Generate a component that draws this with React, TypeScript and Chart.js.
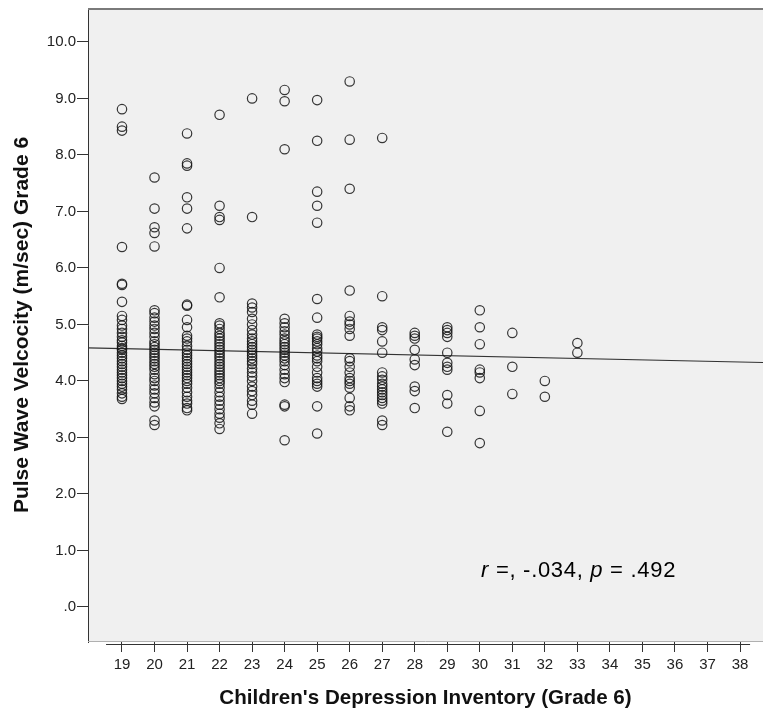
import React, { useEffect, useRef } from "react";
import { Chart, registerables } from "chart.js";

Chart.register(...registerables);

// CDI score categories (x) and Pulse Wave Velocity values (y) per category
const cdiScores = [19, 20, 21, 22, 23, 24, 25, 26, 27, 28, 29, 30, 31, 32, 33];

const pwv19 = [8.81, 8.5, 8.43, 6.37, 5.72, 5.7, 5.4, 5.15, 5.08, 4.98, 4.92, 4.85, 4.78, 4.72, 4.68, 4.62, 4.58, 4.55, 4.5, 4.45, 4.4, 4.35, 4.3, 4.25, 4.2, 4.15, 4.1, 4.05, 4.0, 3.95, 3.9, 3.85, 3.78, 3.72, 3.68];
const pwv20 = [7.6, 7.05, 6.72, 6.62, 6.38, 5.25, 5.2, 5.12, 5.05, 4.98, 4.92, 4.85, 4.78, 4.7, 4.65, 4.6, 4.55, 4.5, 4.45, 4.4, 4.35, 4.3, 4.25, 4.2, 4.12, 4.05, 4.0, 3.92, 3.85, 3.78, 3.7, 3.62, 3.55, 3.3, 3.22];
const pwv21 = [8.38, 7.85, 7.81, 7.25, 7.05, 6.7, 5.35, 5.33, 5.08, 4.95, 4.8, 4.75, 4.7, 4.62, 4.55, 4.5, 4.45, 4.4, 4.35, 4.3, 4.25, 4.2, 4.15, 4.1, 4.05, 4.0, 3.95, 3.88, 3.8, 3.72, 3.65, 3.6, 3.52, 3.48];
const pwv22 = [8.71, 7.1, 6.9, 6.85, 6.0, 5.48, 5.02, 4.98, 4.92, 4.85, 4.8, 4.75, 4.7, 4.65, 4.6, 4.55, 4.5, 4.45, 4.4, 4.35, 4.3, 4.25, 4.2, 4.15, 4.1, 4.05, 4.0, 3.95, 3.88, 3.8, 3.72, 3.65, 3.58, 3.5, 3.42, 3.35, 3.25, 3.15];
const pwv23 = [9.0, 6.9, 5.37, 5.3, 5.22, 5.1, 5.0, 4.9, 4.82, 4.75, 4.7, 4.65, 4.6, 4.55, 4.5, 4.45, 4.4, 4.35, 4.3, 4.22, 4.15, 4.08, 4.0, 3.9, 3.82, 3.75, 3.65, 3.58, 3.42];
const pwv24 = [9.15, 8.95, 8.1, 5.1, 5.02, 4.95, 4.88, 4.82, 4.75, 4.7, 4.65, 4.6, 4.55, 4.5, 4.45, 4.4, 4.35, 4.28, 4.2, 4.12, 4.05, 3.98, 3.58, 3.55, 2.95];
const pwv25 = [8.97, 8.25, 7.35, 7.1, 6.8, 5.45, 5.12, 4.82, 4.78, 4.75, 4.7, 4.65, 4.58, 4.52, 4.45, 4.4, 4.35, 4.25, 4.15, 4.05, 4.0, 3.95, 3.9, 3.55, 3.07];
const pwv26 = [9.3, 8.27, 7.4, 5.6, 5.15, 5.05, 5.0, 4.92, 4.8, 4.4, 4.35, 4.25, 4.15, 4.05, 4.0, 3.95, 3.88, 3.7, 3.55, 3.48];
const pwv27 = [8.3, 5.5, 4.95, 4.9, 4.7, 4.5, 4.15, 4.08, 4.02, 3.95, 3.9, 3.85, 3.8, 3.75, 3.7, 3.65, 3.6, 3.3, 3.22];
const pwv28 = [4.85, 4.8, 4.75, 4.55, 4.38, 4.28, 3.9, 3.82, 3.52];
const pwv29 = [4.95, 4.9, 4.85, 4.78, 4.5, 4.32, 4.25, 4.2, 3.75, 3.6, 3.1];
const pwv30 = [5.25, 4.95, 4.65, 4.2, 4.15, 4.05, 3.47, 2.9];
const pwv31 = [4.85, 4.25, 3.77];
const pwv32 = [4.0, 3.72];
const pwv33 = [4.67, 4.5];

const pwvColumns = [pwv19, pwv20, pwv21, pwv22, pwv23, pwv24, pwv25, pwv26, pwv27, pwv28, pwv29, pwv30, pwv31, pwv32, pwv33];

// fit line end points
const fitX = [17.955, 38.707];
const fitY = [4.584, 4.326];

const xTickValues = [19, 20, 21, 22, 23, 24, 25, 26, 27, 28, 29, 30, 31, 32, 33, 34, 35, 36, 37, 38];
const yTickValues = [0, 1, 2, 3, 4, 5, 6, 7, 8, 9, 10];

const xTitle = "Children's Depression Inventory (Grade 6)";
const yTitle = "Pulse Wave Velcocity (m/sec) Grade 6";

const FONT = "'Liberation Sans', Arial, sans-serif";

export default function App() {
  const ref = useRef<HTMLCanvasElement | null>(null);

  useEffect(() => {
    if (!ref.current) return;
    const points: { x: number; y: number }[] = [];
    cdiScores.forEach((c, i) => {
      pwvColumns[i].forEach((v) => points.push({ x: c, y: v }));
    });

    const framePlugin = {
      id: "frame",
      beforeDraw(chart: any) {
        const { ctx, chartArea: a } = chart;
        ctx.save();
        ctx.fillStyle = "#f0f0f0";
        ctx.fillRect(a.left, a.top, a.right - a.left, a.bottom - a.top);
        ctx.restore();
      },
      beforeDatasetsDraw(chart: any) {
        const { ctx, chartArea: a, scales } = chart;
        ctx.save();
        // top border
        ctx.strokeStyle = "#7a7a7a";
        ctx.lineWidth = 2;
        ctx.beginPath();
        ctx.moveTo(a.left, a.top + 1);
        ctx.lineTo(a.right, a.top + 1);
        ctx.stroke();
        // bottom edge of plot box
        ctx.strokeStyle = "#b0b0b0";
        ctx.lineWidth = 1;
        ctx.beginPath();
        ctx.moveTo(a.left, a.bottom - 0.5);
        ctx.lineTo(a.right, a.bottom - 0.5);
        ctx.stroke();
        // x axis line
        const xs = scales.x;
        ctx.strokeStyle = "#333";
        ctx.lineWidth = 1;
        ctx.beginPath();
        ctx.moveTo(xs.getPixelForValue(18.51), a.bottom + 2.5);
        ctx.lineTo(xs.getPixelForValue(38.31), a.bottom + 2.5);
        ctx.stroke();
        ctx.restore();
      },
      afterDatasetsDraw(chart: any) {
        const { ctx, scales } = chart;
        const x0 = scales.x.getPixelForValue(30.04);
        const y0 = scales.y.getPixelForValue(0.64);
        ctx.save();
        ctx.fillStyle = "#000";
        ctx.textBaseline = "middle";
        ctx.textAlign = "left";
        try {
          (ctx as any).letterSpacing = "0.7px";
        } catch (e) {}
        const parts: [string, boolean][] = [
          ["r", true],
          [" =, -.034, ", false],
          ["p", true],
          [" = .492", false],
        ];
        let x = x0;
        parts.forEach(([t, it]) => {
          ctx.font = `${it ? "italic " : ""}22px ${FONT}`;
          ctx.fillText(t, x, y0);
          x += ctx.measureText(t).width;
        });
        ctx.restore();
      },
    };

    const chart = new Chart(ref.current, {
      type: "scatter",
      data: {
        datasets: [
          {
            label: "PWV",
            data: points,
            pointStyle: "circle",
            pointRadius: 4.7,
            pointBorderWidth: 1.2,
            pointBorderColor: "rgba(20,20,20,0.85)",
            pointBackgroundColor: "rgba(0,0,0,0)",
            showLine: false,
          },
          {
            label: "Fit",
            type: "line",
            data: fitX.map((x, i) => ({ x, y: fitY[i] })),
            borderColor: "#333",
            borderWidth: 1.2,
            pointRadius: 0,
            fill: false,
          } as any,
        ],
      },
      options: {
        responsive: false,
        animation: false,
        events: [],
        layout: { autoPadding: false, padding: { left: 8, top: 8, right: 0, bottom: 0 } },
        plugins: {
          legend: { display: false },
          tooltip: { enabled: false },
        },
        scales: {
          x: {
            type: "linear",
            min: 17.955,
            max: 38.707,
            afterFit: (s: any) => {
              s.height = 71;
              s.paddingLeft = 0;
              s.paddingRight = 0;
            },
            afterBuildTicks: (s: any) => {
              s.ticks = xTickValues.map((v) => ({ value: v }));
            },
            border: { display: false },
            grid: {
              drawOnChartArea: false,
              drawTicks: true,
              tickLength: 10,
              tickColor: "#333",
              lineWidth: 1,
            },
            ticks: {
              autoSkip: false,
              maxRotation: 0,
              padding: 4,
              color: "#222",
              font: { family: FONT, size: 15 },
              callback: (v: any) => String(v),
            },
            title: {
              display: true,
              text: xTitle,
              color: "#111",
              font: { family: FONT, size: 20.6, weight: "bold" },
              padding: { top: 0, bottom: 2 },
            },
          },
          y: {
            type: "linear",
            min: -0.62,
            max: 10.6,
            afterFit: (s: any) => {
              s.width = 80;
              s.paddingTop = 0;
              s.paddingBottom = 0;
            },
            afterBuildTicks: (s: any) => {
              s.ticks = yTickValues.map((v) => ({ value: v }));
            },
            border: { display: true, color: "#333", width: 1 },
            grid: {
              drawOnChartArea: false,
              drawTicks: true,
              tickLength: 11,
              tickColor: "#333",
            },
            ticks: {
              padding: 1,
              color: "#222",
              font: { family: FONT, size: 15 },
              callback: (v: any) => (Number(v) === 0 ? ".0" : Number(v).toFixed(1)),
            },
            title: {
              display: true,
              text: yTitle,
              color: "#111",
              font: { family: FONT, size: 21, weight: "bold" },
              padding: { top: 2, bottom: 0 },
            },
          },
        },
      },
      plugins: [framePlugin],
    });

    return () => chart.destroy();
  }, []);

  return (
    <div style={{ position: "fixed", left: 0, top: 0, width: 763, height: 713, background: "#fff" }}>
      <canvas ref={ref} width={763} height={713} style={{ width: 763, height: 713, display: "block" }} />
    </div>
  );
}
